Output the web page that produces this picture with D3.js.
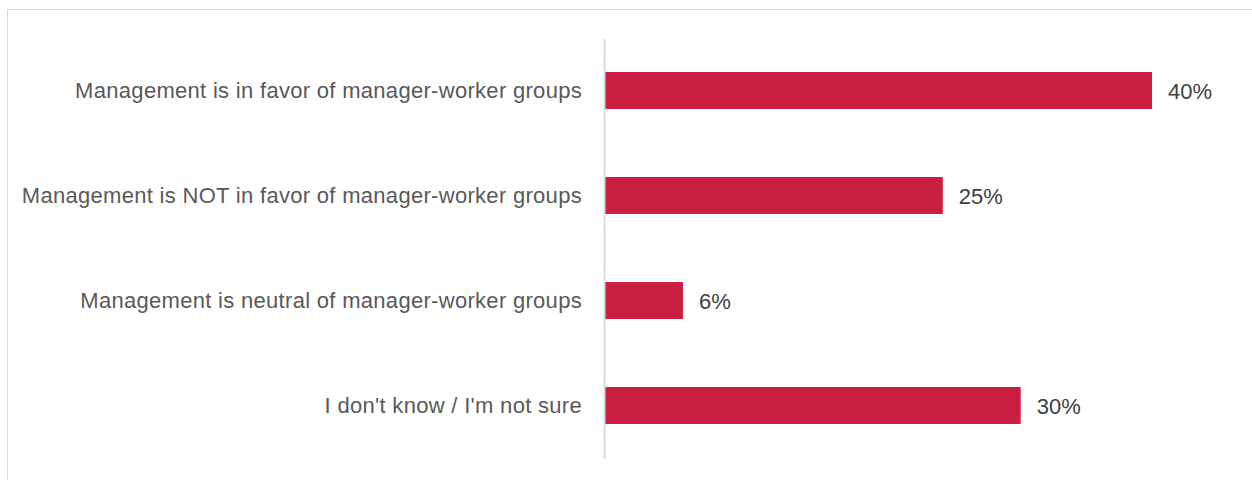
<!DOCTYPE html>
<html>
<head>
<meta charset="utf-8">
<script src="https://cdn.jsdelivr.net/npm/d3@7"></script>
<style>
  body { margin: 0; background: #fff; }
  svg { display: block; }
</style>
</head>
<body>
<svg id="chart"></svg>
<script>
// answers to the survey question, top to bottom
var categories = [
  "Management is in favor of manager-worker groups",
  "Management is NOT in favor of manager-worker groups",
  "Management is neutral of manager-worker groups",
  "I don't know / I'm not sure"
];
var shares = [40.0, 24.7, 5.7, 30.4];

var width = 1252, height = 480;
var margin = {top: 38, left: 605, bottom: 22};

var rows = categories.map(function(c, i) { return {label: c, value: shares[i]}; });

var svg = d3.select("#chart")
  .attr("width", width)
  .attr("height", height);

// frame round the chart (only top and left are in view)
svg.append("rect")
  .attr("x", 7.5)
  .attr("y", 9.5)
  .attr("width", width)
  .attr("height", height)
  .attr("fill", "none")
  .attr("stroke", "#d9d9d9")
  .attr("stroke-width", 1);

var x = d3.scaleLinear()
  .domain([0, 40])
  .range([margin.left, 1152]);

var y = d3.scaleBand()
  .domain(categories)
  .range([margin.top, height - margin.bottom])
  .paddingInner(0.648)
  .paddingOuter(0.324);

svg.selectAll("rect.bar").data(rows).enter()
  .append("rect")
  .attr("class", "bar")
  .attr("x", x(0))
  .attr("y", function(d) { return y(d.label); })
  .attr("width", function(d) { return x(d.value) - x(0); })
  .attr("height", y.bandwidth())
  .attr("fill", "#ca1f41");

var yAxis = d3.axisLeft(y)
  .tickSizeInner(0)
  .tickSizeOuter(0)
  .tickPadding(22);

var ga = svg.append("g")
  .attr("transform", "translate(" + (margin.left - 1) + ",0)")
  .call(yAxis);
ga.select(".domain")
  .attr("stroke", "#d9d9d9")
  .attr("stroke-width", 2);
ga.selectAll("text")
  .attr("fill", "#595959")
  .attr("dy", "0.36em")
  .style("font-family", "'Liberation Sans', Arial, sans-serif")
  .style("font-size", "22px")
  .style("letter-spacing", "0.3px");

svg.selectAll("text.val").data(rows).enter()
  .append("text")
  .attr("class", "val")
  .attr("x", function(d) { return x(d.value) + 16; })
  .attr("y", function(d) { return y(d.label) + y.bandwidth() / 2; })
  .attr("dy", "0.37em")
  .attr("fill", "#404040")
  .style("font-family", "'Liberation Sans', Arial, sans-serif")
  .style("font-size", "22px")
  .text(function(d) { return Math.round(d.value) + "%"; });
</script>
</body>
</html>
